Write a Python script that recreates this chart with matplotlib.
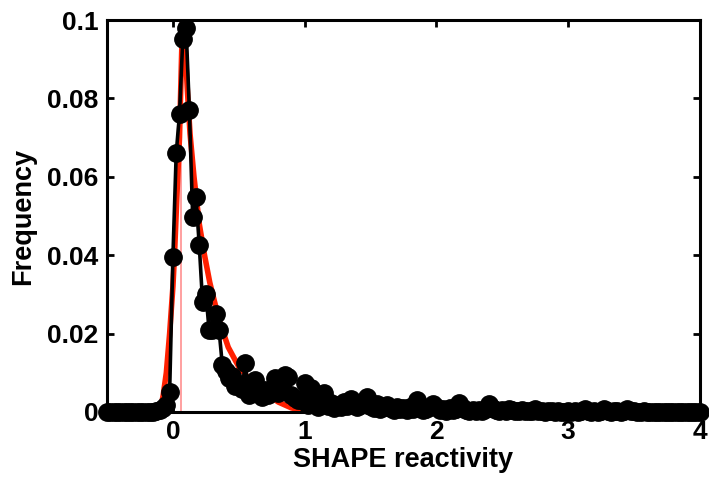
import matplotlib.pyplot as plt
import numpy as np

plt.rcParams['font.family'] = ['Liberation Sans', 'DejaVu Sans']
plt.rcParams['font.weight'] = 'bold'

# histogram of SHAPE reactivities, bin width 0.025 from -0.5 to 4.0
bin_start, bin_step = -0.5, 0.025
freq = [
    0, 0, 0, 0, 0, 0, 0, 0, 0, 0,                                                # -0.5 .. -0.275
    0, 0, 0, 0, 0, 0.0002, 0.0005, 0.0010, 0.0018, 0.0050,                      # -0.25 .. -0.025
    0.0396, 0.066, 0.076, 0.0952, 0.098, 0.077, 0.0498, 0.0548, 0.0426, 0.028,  # 0.0 .. 0.225
    0.0302, 0.0208, 0.021, 0.0250, 0.0210, 0.0120, 0.0105, 0.0086, 0.0092, 0.0065,
    0.0072, 0.0058, 0.0124, 0.0043, 0.0062, 0.0082, 0.0045, 0.0039, 0.0055, 0.0042,
    0.0052, 0.0086, 0.0048, 0.0062, 0.0094, 0.0088, 0.0043, 0.0035, 0.0030, 0.0030,
    0.0073, 0.0018, 0.0060, 0.0028, 0.0012, 0.0020, 0.0048, 0.0015, 0.0022, 0.0010,  # 1.0 ..
    0.0018, 0.0012, 0.0025, 0.0015, 0.0033, 0.0020, 0.0012, 0.0018, 0.0028, 0.0038,
    0.0015, 0.0010, 0.0020, 0.0008, 0.0012, 0.0018, 0.0010, 0.0005, 0.0012, 0.0008,
    0.0010, 0.0005, 0.0012, 0.0008, 0.0031, 0.0010, 0.0005, 0.0008, 0.0012, 0.0020,
    0.0012, 0.0005, 0.0008, 0.0003, 0.0010, 0.0005, 0.0008, 0.0023, 0.0010, 0.0005,  # 2.0 ..
    0.0003, 0.0005, 0.0002, 0.0005, 0.0003, 0.0008, 0.0020, 0.0010, 0.0005, 0.0003,
    0.0005, 0.0003, 0.0008, 0.0005, 0.0003, 0.0002, 0.0005, 0.0003, 0.0002, 0.0003,
    0.0008, 0.0003, 0.0002, 0, 0.0003, 0.0002, 0, 0.0002, 0, 0,
    0.0002, 0, 0.0003, 0, 0.0002, 0.0008, 0.0003, 0, 0.0002, 0,                  # 3.0 ..
    0.0003, 0.0008, 0.0003, 0, 0.0002, 0.0003, 0, 0.0002, 0.0008, 0.0003,
    0.0002, 0, 0, 0.0002, 0, 0, 0, 0, 0, 0,
    0, 0, 0, 0, 0, 0, 0, 0, 0, 0,
    0,                                                                           # 4.0
]
bins = bin_start + bin_step * np.arange(len(freq))

# fitted distribution (red curve)
fit_x = [-0.5, -0.1, -0.075, -0.05, -0.025, 0.0, 0.012, 0.03, 0.05, 0.065, 0.075,
         0.09, 0.11, 0.13, 0.16, 0.2, 0.24, 0.28, 0.35, 0.42, 0.5, 0.6, 0.7, 0.8,
         0.9, 1.0, 1.1, 4.0]
fit_y = [0, 0, 0.004, 0.010, 0.020, 0.032, 0.040, 0.055, 0.070, 0.090, 0.102,
         0.095, 0.082, 0.071, 0.060, 0.048, 0.040, 0.033, 0.0235, 0.0165, 0.0115,
         0.0076, 0.0048, 0.0025, 0.0010, 0.0003, 0, 0]
peak_pos = 0.064

fig, ax = plt.subplots(figsize=(7.09, 4.8), dpi=100)
fig.subplots_adjust(left=0.151, right=0.987, top=0.958, bottom=0.142)

ax.plot([peak_pos, peak_pos], [0, 0.1], color='#ff9090', lw=1.2, zorder=1)
ax.plot(fit_x, fit_y, color='#ff2000', lw=4, zorder=2)
ax.plot(bins, freq, color='black', lw=2.6, marker='o', markersize=12.5,
        clip_on=False, zorder=3)

ax.set_xlim(-0.5, 4)
ax.set_ylim(0, 0.1)
ax.set_xticks([0, 1, 2, 3, 4])
ax.set_yticks([0, 0.02, 0.04, 0.06, 0.08, 0.1])
ax.set_yticklabels(['0', '0.02', '0.04', '0.06', '0.08', '0.1'])
ax.tick_params(direction='in', length=5, width=2, labelsize=19,
               top=True, right=True, pad=6)
for s in ax.spines.values():
    s.set_linewidth(2.2)

ax.set_xlabel('SHAPE reactivity', fontsize=19.5, fontweight='bold', labelpad=2)
ax.set_ylabel('Frequency', fontsize=19.5, fontweight='bold', labelpad=8)

fig.savefig('out.png')
